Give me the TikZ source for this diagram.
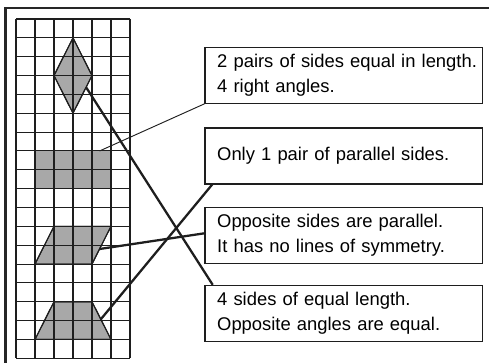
\documentclass[tikz,border=0pt]{standalone}
\usepackage{fontspec}
\setmainfont{Liberation Sans}
\usetikzlibrary{calc}
\definecolor{shapefill}{RGB}{168,168,168}
\definecolor{inkc}{RGB}{30,30,30}
\newcommand{\boxline}[1]{\makebox[190pt][l]{#1}}
\tikzset{
  gridline/.style={draw=inkc, line width=0.8pt},
  shapebox/.style={fill=shapefill, draw=inkc, line width=0.8pt, line join=miter},
  labelbox/.style={draw=inkc, line width=0.8pt, rectangle, text width=190pt,
    inner xsep=9.15pt, inner ysep=0pt, minimum height=42pt, align=left,
    font=\fontsize{13.8}{19.2}\selectfont},
  thickcon/.style={draw=inkc, line width=1.7pt},
  thincon/.style={draw=inkc, line width=0.7pt},
  framestyle/.style={draw=black!85, line width=1.6pt}
}
\begin{document}
\begin{tikzpicture}[x=0.75pt, y=-0.75pt]
\useasboundingbox (0,0) rectangle (489,363);
\fill[white] (0,0) rectangle (489,363);
% outer frame (open on right and bottom)
\draw[framestyle] (5.5,370) -- (5.5,8) -- (495,8);
% grid: 6 columns x 18 rows
\def\cx{19}
\def\cy{18.85}
\foreach \i in {0,...,6} {
  \draw[gridline] ({16+\cx*\i},19) -- ({16+\cx*\i},{19+\cy*18});
}
\foreach \j in {0,...,18} {
  \draw[gridline] (16,{19+\cy*\j}) -- ({16+\cx*6},{19+\cy*\j});
}
% grid helper coordinates
\newcommand{\gp}[2]{({16+\cx*(#1)},{19+\cy*(#2)})}
% rhombus
\draw[shapebox] \gp{3}{1} -- \gp{4}{3} -- \gp{3}{5} -- \gp{2}{3} -- cycle;
% rectangle
\draw[shapebox] \gp{1}{7} rectangle \gp{5}{9};
\foreach \i in {2,3,4} { \draw[gridline] \gp{\i}{7} -- \gp{\i}{9}; }
\draw[gridline] \gp{1}{8} -- \gp{5}{8};
% parallelogram
\draw[shapebox] \gp{1}{13} -- \gp{4}{13} -- \gp{5}{11} -- \gp{2}{11} -- cycle;
% trapezoid
\draw[shapebox] \gp{1}{17} -- \gp{5}{17} -- \gp{4}{15} -- \gp{2}{15} -- cycle;
% redraw interior grid lines over the filled shapes
\begin{scope}
  \clip \gp{3}{1} -- \gp{4}{3} -- \gp{3}{5} -- \gp{2}{3} -- cycle;
  \draw[gridline] \gp{3}{0} -- \gp{3}{6};
  \foreach \j in {2,3,4} { \draw[gridline] \gp{1}{\j} -- \gp{5}{\j}; }
\end{scope}
\begin{scope}
  \clip \gp{1}{13} -- \gp{4}{13} -- \gp{5}{11} -- \gp{2}{11} -- cycle;
  \foreach \i in {1,...,5} { \draw[gridline] \gp{\i}{10} -- \gp{\i}{14}; }
  \draw[gridline] \gp{0}{12} -- \gp{6}{12};
\end{scope}
\begin{scope}
  \clip \gp{1}{17} -- \gp{5}{17} -- \gp{4}{15} -- \gp{2}{15} -- cycle;
  \foreach \i in {1,...,5} { \draw[gridline] \gp{\i}{14} -- \gp{\i}{18}; }
  \draw[gridline] \gp{0}{16} -- \gp{6}{16};
\end{scope}
% redraw outlines
\draw[draw=inkc, line width=0.8pt] \gp{3}{1} -- \gp{4}{3} -- \gp{3}{5} -- \gp{2}{3} -- cycle;
\draw[draw=inkc, line width=0.8pt] \gp{1}{13} -- \gp{4}{13} -- \gp{5}{11} -- \gp{2}{11} -- cycle;
\draw[draw=inkc, line width=0.8pt] \gp{1}{17} -- \gp{5}{17} -- \gp{4}{15} -- \gp{2}{15} -- cycle;
% connector start points on the shapes
\coordinate (rh) at (86.1,87.3);
\coordinate (re) at (99.5,151.0);
\coordinate (pa) at (99.6,249.0);
\coordinate (tr) at (100.8,319.3);
% label boxes
\node[labelbox] (b1) at (343.85,75.3) {\boxline{2 pairs of sides equal in length.}\\\boxline{4 right angles.}};
\node[labelbox] (b2) at (343.85,156.0) {\boxline{Only 1 pair of parallel sides.}};
\node[labelbox] (b3) at (343.85,235.3) {\boxline{Opposite sides are parallel.}\\\boxline{It has no lines of symmetry.}};
\node[labelbox] (b4) at (343.85,313.35) {\boxline{4 sides of equal length.}\\\boxline{Opposite angles are equal.}};
% connectors
\draw[thincon] (re) -- (b1.south west);
\draw[thickcon] (rh) -- ([xshift=6.2pt]b4.north west);
\draw[thickcon] (pa) -- ([yshift=1.5pt]b3.west);
\draw[thickcon] (tr) -- ([xshift=5.8pt]b2.south west);
\end{tikzpicture}
\end{document}
